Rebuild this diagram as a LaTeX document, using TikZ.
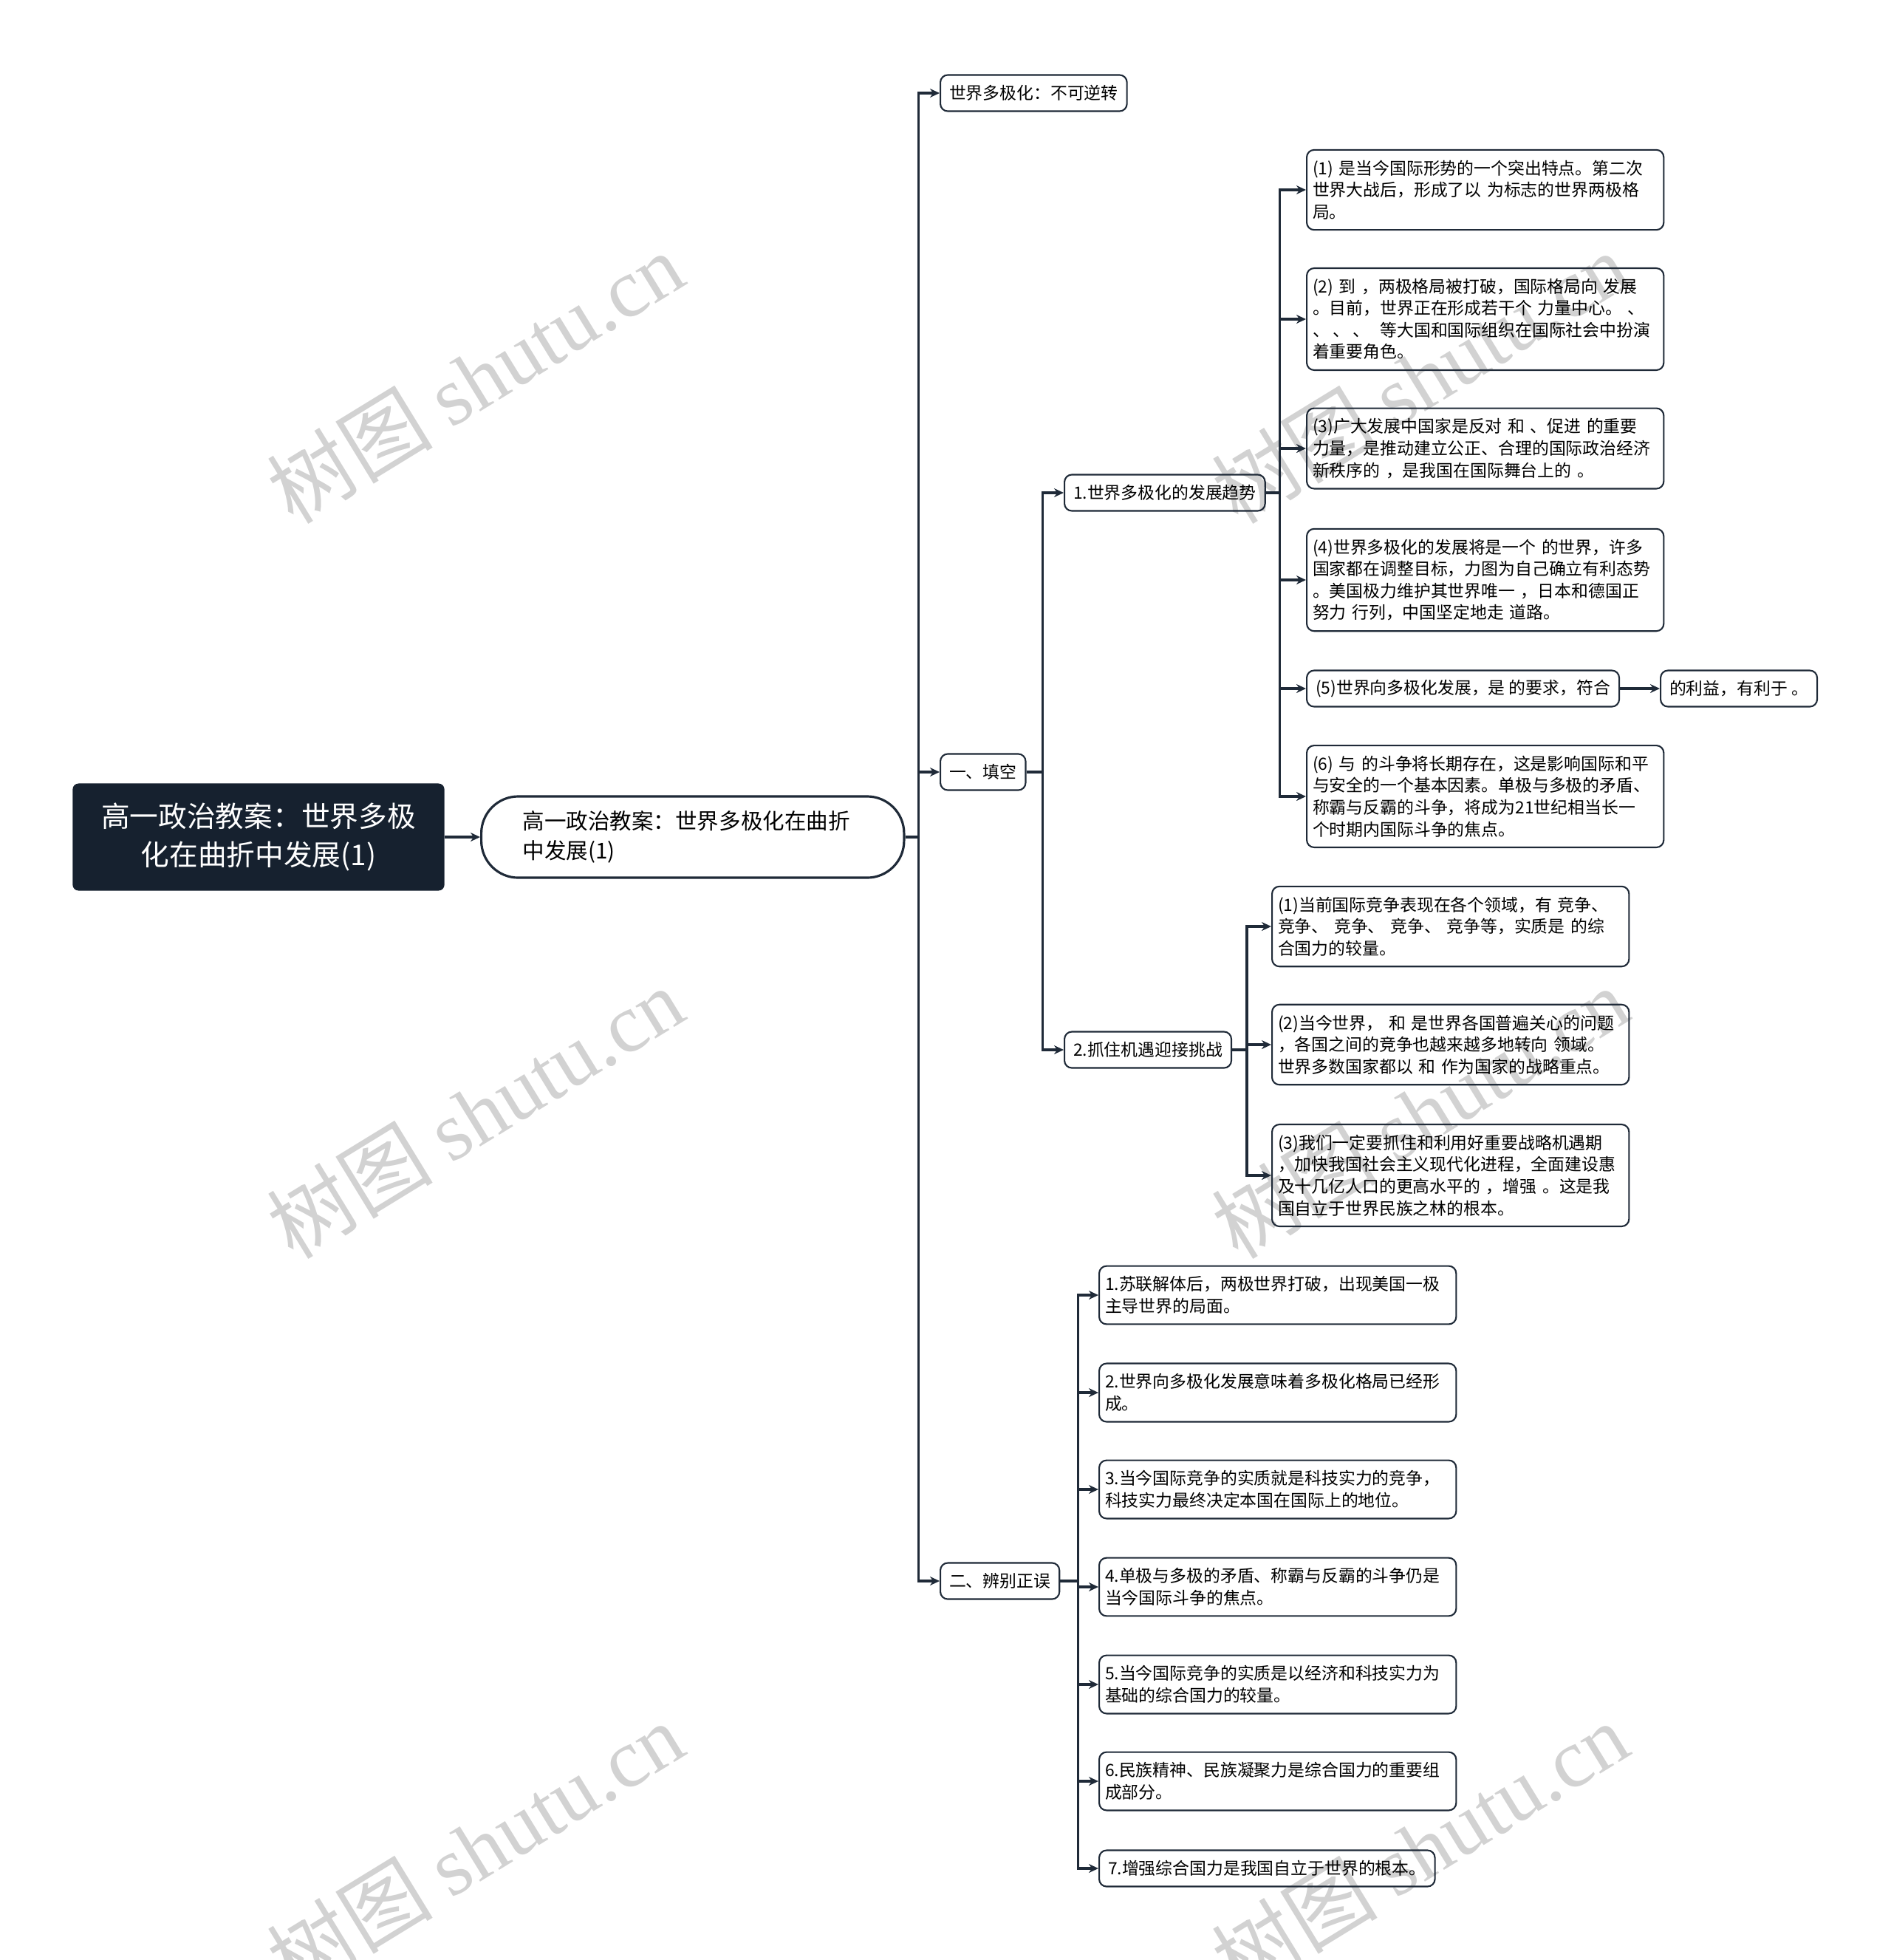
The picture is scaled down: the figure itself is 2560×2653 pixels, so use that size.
\documentclass[tikz,border=0pt]{standalone}
\usepackage{fontspec}
\setmainfont{Noto Sans CJK SC}
\newfontfamily\wmfont{Liberation Serif}
\usepackage{xcolor}
\usepackage{tikz}
\usetikzlibrary{arrows.meta, positioning}
\definecolor{inkdark}{HTML}{16212F}
\definecolor{linedark}{HTML}{1F2A38}
\definecolor{wmgray}{HTML}{D2D2D2}
\tikzstyle{root}   = [rectangle, rounded corners=0.08cm, fill=inkdark, text=white,
                      minimum width=5.03cm, minimum height=1.45cm, align=center,
                      font=\fontsize{11}{15}\selectfont]
\tikzstyle{topic}  = [rectangle, rounded corners=0.5cm, draw=linedark, line width=0.9pt,
                      text width=4.6cm, inner xsep=0.56cm, minimum height=1.1cm,
                      align=left, font=\fontsize{8.4}{11.5}\selectfont]
\tikzstyle{branch} = [rectangle, rounded corners=0.1cm, draw=linedark, line width=0.6pt,
                      inner xsep=0.12cm, minimum height=0.49cm, anchor=west,
                      font=\fontsize{6.5}{8.4}\selectfont]
\tikzstyle{leaf}   = [branch, text width=4.67cm, inner xsep=0.08cm, inner ysep=0.14cm,
                      align=left]
\tikzstyle{arrow}  = [draw=linedark, line width=0.9pt, -{Stealth[length=0.13cm,width=0.12cm]}]
\tikzstyle{wmark}  = [text=wmgray, rotate=31.5, font=\fontsize{32}{32}\selectfont]

\begin{document}
\begin{tikzpicture}[x=0.01cm, y=-0.01cm]
  \useasboundingbox (0,0) rectangle (2560,2653);

  % Watermarks
  \node[wmark] (wm1) at (643,511)   {树图 {\wmfont shutu.cn}};
  \node[wmark] (wm2) at (643,1506)  {树图 {\wmfont shutu.cn}};
  \node[wmark] (wm3) at (643,2501)  {树图 {\wmfont shutu.cn}};
  \node[wmark] (wm4) at (1922,511)  {树图 {\wmfont shutu.cn}};
  \node[wmark] (wm5) at (1922,1506) {树图 {\wmfont shutu.cn}};
  \node[wmark] (wm6) at (1922,2501) {树图 {\wmfont shutu.cn}};

  % Root and title
  \node[root] (root) at (350,1133) {高一政治教案：世界多极\\化在曲折中发展(1)};
  \node[topic, anchor=west] (main) at (650,1133) {高一政治教案：世界多极化在曲折\\中发展(1)};
  \draw[arrow] (root) -- (main);

  % First level
  \node[branch] (irrev) at (1272,126)  {世界多极化：不可逆转};
  \node[branch] (fill)  at (1272,1045) {一、填空};
  \node[branch] (judge) at (1272,2140) {二、辨别正误};
  \draw[arrow] (main.east) -- ++(18,0) |- (irrev.west);
  \draw[arrow] (main.east) -- ++(18,0) |- (fill.west);
  \draw[arrow] (main.east) -- ++(18,0) |- (judge.west);

  % Fill in the blanks
  \node[branch] (trend) at (1440,667)  {1.世界多极化的发展趋势};
  \node[branch] (seize) at (1440,1421) {2.抓住机遇迎接挑战};
  \draw[arrow] (fill.east) -- ++(22,0) |- (trend.west);
  \draw[arrow] (fill.east) -- ++(22,0) |- (seize.west);

  % Trend items
  \node[leaf] (tr1) at (1768,257)
        {(1) 是当今国际形势的一个突出特点。第二次\\世界大战后，形成了以 为标志的世界两极格\\局。};
  \node[leaf] (tr2) at (1768,432)
        {(2) 到 ，两极格局被打破，国际格局向 发展\\。目前，世界正在形成若干个 力量中心。 、\\\mbox{、\hspace{0.2em}、\hspace{0.2em}、\hspace{0.6em}等大国和国际组织在国际社会中扮演}\\着重要角色。};
  \node[leaf] (tr3) at (1768,607)
        {(3)广大发展中国家是反对 和 、促进 的重要\\力量，是推动建立公正、合理的国际政治经济\\新秩序的 ，是我国在国际舞台上的 。};
  \node[leaf] (tr4) at (1768,785)
        {(4)世界多极化的发展将是一个 的世界，许多\\国家都在调整目标，力图为自己确立有利态势\\。美国极力维护其世界唯一 ，日本和德国正\\努力 行列，中国坚定地走 道路。};
  \node[branch] (tr5) at (1768,932) {(5)世界向多极化发展，是 的要求，符合};
  \node[branch] (tr5b) at (2247,932) {的利益，有利于 。};
  \node[leaf] (tr6) at (1768,1078)
        {(6) 与 的斗争将长期存在，这是影响国际和平\\与安全的一个基本因素。单极与多极的矛盾、\\称霸与反霸的斗争，将成为21世纪相当长一\\个时期内国际斗争的焦点。};
  \draw[arrow] (trend.east) -- ++(19,0) |- (tr1.west);
  \draw[arrow] (trend.east) -- ++(19,0) |- (tr2.west);
  \draw[arrow] (trend.east) -- ++(19,0) |- (tr3.west);
  \draw[arrow] (trend.east) -- ++(19,0) |- (tr4.west);
  \draw[arrow] (trend.east) -- ++(19,0) |- (tr5.west);
  \draw[arrow] (trend.east) -- ++(19,0) |- (tr6.west);
  \draw[arrow] (tr5) -- (tr5b);

  % Seize items
  \node[leaf] (sz1) at (1721,1254)
        {(1)当前国际竞争表现在各个领域，有 竞争、\\竞争、 竞争、 竞争、 竞争等，实质是 的综\\合国力的较量。};
  \node[leaf] (sz2) at (1721,1414)
        {(2)当今世界， 和 是世界各国普遍关心的问题\\，各国之间的竞争也越来越多地转向 领域。\\世界多数国家都以 和 作为国家的战略重点。};
  \node[leaf] (sz3) at (1721,1591)
        {(3)我们一定要抓住和利用好重要战略机遇期\\，加快我国社会主义现代化进程，全面建设惠\\及十几亿人口的更高水平的 ，增强 。这是我\\国自立于世界民族之林的根本。};
  \draw[arrow] (seize.east) -- ++(20,0) |- (sz1.west);
  \draw[arrow] (seize.east) -- ++(20,0) |- (sz2.west);
  \draw[arrow] (seize.east) -- ++(20,0) |- (sz3.west);

  % True or false
  \node[leaf] (jd1) at (1487,1753) {1.苏联解体后，两极世界打破，出现美国一极\\主导世界的局面。};
  \node[leaf] (jd2) at (1487,1885) {2.世界向多极化发展意味着多极化格局已经形\\成。};
  \node[leaf] (jd3) at (1487,2016) {3.当今国际竞争的实质就是科技实力的竞争，\\科技实力最终决定本国在国际上的地位。};
  \node[leaf] (jd4) at (1487,2148) {4.单极与多极的矛盾、称霸与反霸的斗争仍是\\当今国际斗争的焦点。};
  \node[leaf] (jd5) at (1487,2280) {5.当今国际竞争的实质是以经济和科技实力为\\基础的综合国力的较量。};
  \node[leaf] (jd6) at (1487,2411) {6.民族精神、民族凝聚力是综合国力的重要组\\成部分。};
  \node[branch] (jd7) at (1487,2529) {7.增强综合国力是我国自立于世界的根本。};
  \draw[arrow] (judge.east) -- ++(24,0) |- (jd1.west);
  \draw[arrow] (judge.east) -- ++(24,0) |- (jd2.west);
  \draw[arrow] (judge.east) -- ++(24,0) |- (jd3.west);
  \draw[arrow] (judge.east) -- ++(24,0) |- (jd4.west);
  \draw[arrow] (judge.east) -- ++(24,0) |- (jd5.west);
  \draw[arrow] (judge.east) -- ++(24,0) |- (jd6.west);
  \draw[arrow] (judge.east) -- ++(24,0) |- (jd7.west);

\end{tikzpicture}
\end{document}
